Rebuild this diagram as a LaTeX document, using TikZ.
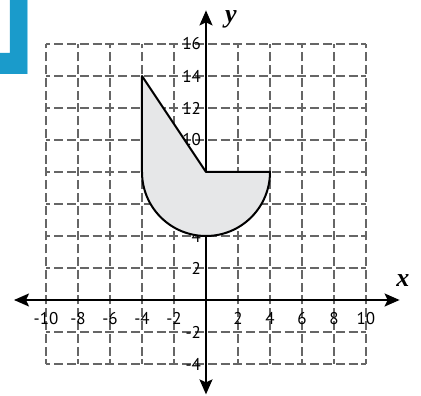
\documentclass[tikz,border=0pt]{standalone}
\usepackage{fontspec}
\setmainfont{PT Sans}
\newfontfamily\axisfont{Liberation Serif}
\usetikzlibrary{arrows.meta}
\definecolor{tabblue}{HTML}{1A9BCB}
\definecolor{tabedge}{HTML}{8FD0EA}
\definecolor{shapegray}{HTML}{E6E7E8}
\tikzset{
  gridline/.style={draw=black!60, line width=1.1pt, dash pattern=on 9pt off 3.8pt, dash phase=4.5pt},
  axisline/.style={line width=1.7pt, {Stealth[length=15pt,width=13pt,inset=3pt]}-{Stealth[length=15pt,width=13pt,inset=3pt]}},
  ticklab/.style={font=\fontsize{17}{17}\selectfont, inner sep=0pt},
  axislab/.style={font=\axisfont\bfseries\itshape\fontsize{26}{26}\selectfont, inner sep=0pt},
  region/.style={fill=shapegray, draw=black, line width=2pt, line join=round}
}
\begin{document}
\begin{tikzpicture}[x=16pt,y=16pt]
\useasboundingbox (-12.875,-6) rectangle (13.4375,18.75);
% blue tab
\begin{scope}[shift={(-12.875,18.75)}, x=1pt, y=-1pt]
  \fill[tabblue] (10,0) -- (27,0) -- (27,74) -- (0,74) -- (0,53) -- (10,53) -- cycle;
  \draw[tabedge, line width=0.8pt] (27,0) -- (27,74);
\end{scope}
% grid
\foreach \gx in {-10,-8,...,10} \draw[gridline] (\gx,-4) -- (\gx,16);
\foreach \gy in {-4,-2,...,16} \draw[gridline] (-10,\gy) -- (10,\gy);
% tick labels
\foreach \t in {-10,-8,-6,-4,-2,2,4,6,8,10}
  \node[ticklab] (xl\t) at (\t,-1.15) {\t};
\foreach \t in {-4,-2,2,4,6,8,10,12,14,16}
  \node[ticklab, anchor=east] (yl\t) at (-0.3,\t) {\t};
% axes
\coordinate (xa) at (-12,0);
\coordinate (xb) at (12.1,0);
\coordinate (ya) at (0,-5.9);
\coordinate (yb) at (0,18.1);
\draw[axisline] (xa) -- (xb);
\draw[axisline] (ya) -- (yb);
\node[axislab] (xlab) at (12.3,1.2) {x};
\node[axislab] (ylab) at (1.55,17.55) {y};
% region
\coordinate (p1) at (-4,14);
\coordinate (p2) at (0,8);
\coordinate (p3) at (4,8);
\draw[region] (p1) -- (p2) -- (p3) arc[start angle=0, end angle=-180, radius=4] -- cycle;
\end{tikzpicture}
\end{document}
